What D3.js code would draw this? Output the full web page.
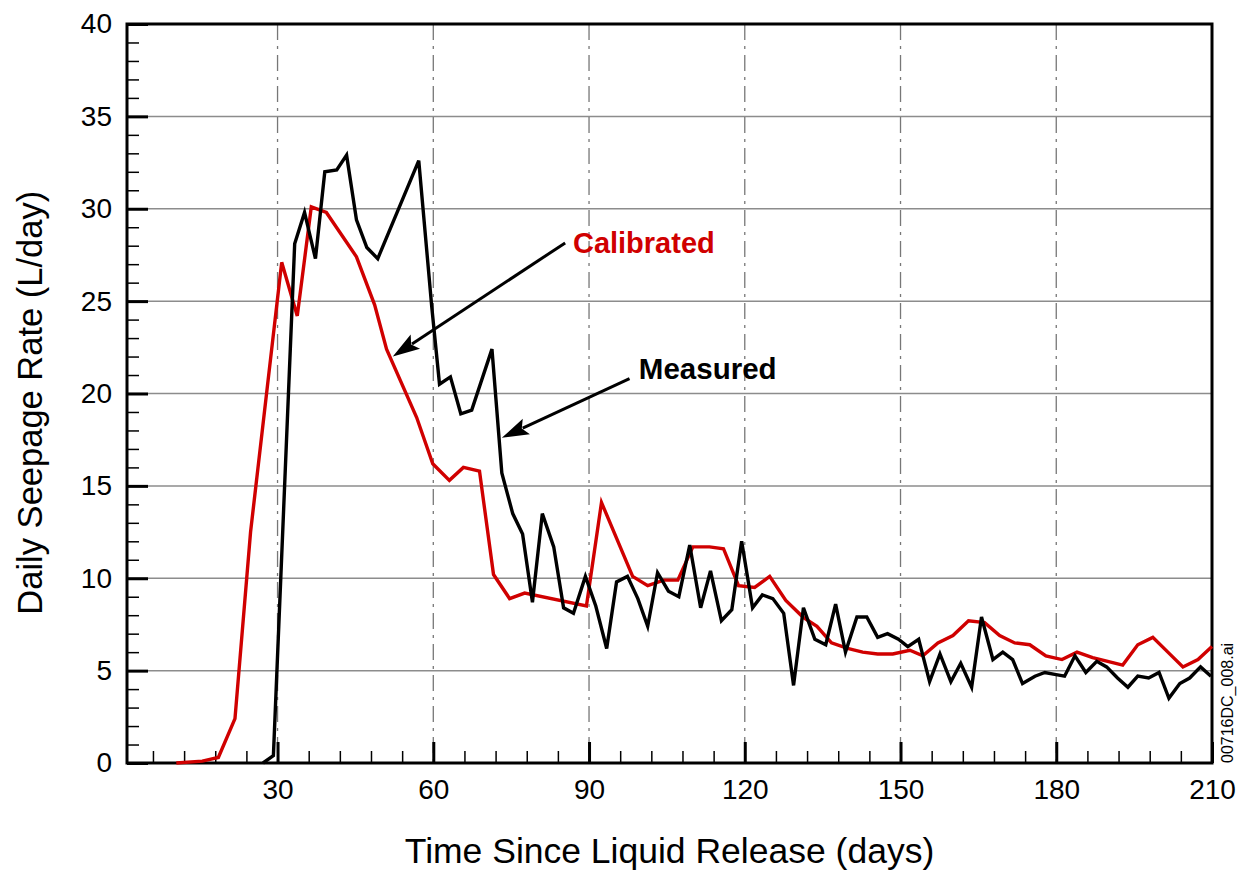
<!DOCTYPE html>
<meta charset="utf-8">

<style>
body { margin: 0; background: white; }
text { font-family: "Liberation Sans", Arial, sans-serif; }
.tick text { font-size: 28px; fill: black; }
.grid-h { stroke: #8c8c8c; stroke-width: 1.5px; }
.grid-v { stroke: #777; stroke-width: 1.3px; stroke-dasharray: 16,6,3,6; }
.series { fill: none; stroke-width: 3.4px; stroke-linejoin: miter; }
</style>

<script src="https://cdn.jsdelivr.net/npm/d3@7"></script>
<div id="chart"></div>

<script>

// data: [day, L/day]
var measured = [
  [27.2, 0], [29.2, 0.4], [33.3, 28.1], [35.2, 29.8], [37.3, 27.3], [39.1, 32.0],
  [41.4, 32.1], [43.3, 32.9], [45.2, 29.4], [47.2, 27.9], [49.3, 27.3], [57.2, 32.6],
  [59.7, 24.7], [61.2, 20.5], [63.3, 20.9], [65.3, 18.9], [67.4, 19.1], [71.3, 22.4],
  [73.2, 15.7], [75.3, 13.5], [77.2, 12.4], [79.1, 8.7], [81.0, 13.5], [83.2, 11.7],
  [85.1, 8.4], [87.0, 8.1], [89.3, 10.1], [91.3, 8.5], [93.4, 6.2], [95.3, 9.8],
  [97.4, 10.1], [99.4, 8.9], [101.3, 7.4], [103.2, 10.3], [105.3, 9.3], [107.3, 9.0],
  [109.4, 11.8], [111.5, 8.4], [113.4, 10.4], [115.5, 7.7], [117.5, 8.3], [119.4, 12.0],
  [121.5, 8.4], [123.4, 9.1], [125.4, 8.9], [127.5, 8.1], [129.4, 4.2], [131.3, 8.4],
  [133.5, 6.7], [135.6, 6.4], [137.5, 8.6], [139.4, 6.0], [141.6, 7.9], [143.5, 7.9],
  [145.6, 6.8], [147.5, 7.0], [149.6, 6.7], [151.4, 6.3], [153.5, 6.7], [155.6, 4.4],
  [157.6, 5.9], [159.7, 4.4], [161.6, 5.4], [163.7, 4.1], [165.6, 7.9], [167.8, 5.6],
  [169.7, 6.0], [171.6, 5.6], [173.5, 4.3], [175.9, 4.7], [177.8, 4.9], [179.7, 4.8],
  [181.6, 4.7], [183.6, 5.8], [185.7, 4.9], [187.8, 5.5], [189.7, 5.2], [191.8, 4.6],
  [193.8, 4.1], [195.7, 4.7], [197.8, 4.6], [199.8, 4.9], [201.7, 3.5], [203.8, 4.3],
  [205.7, 4.6], [207.8, 5.2], [209.8, 4.7]
];

var calibrated = [
  [10.5, 0], [15.5, 0.1], [18.6, 0.3], [21.8, 2.4], [24.8, 12.5], [30.8, 27.1],
  [33.8, 24.2], [36.5, 30.1], [39.4, 29.8], [45.2, 27.4], [48.7, 24.8], [51.0, 22.4],
  [56.8, 18.7], [59.9, 16.2], [63.1, 15.3], [65.8, 16.0], [68.9, 15.8], [71.6, 10.2],
  [74.7, 8.9], [77.6, 9.2], [89.5, 8.5], [92.4, 14.1], [98.4, 10.1], [101.3, 9.6],
  [104.4, 9.9], [107.1, 9.9], [110.0, 11.7], [113.2, 11.7], [115.9, 11.6], [118.8, 9.6],
  [121.9, 9.5], [124.8, 10.1], [127.9, 8.8], [131.2, 7.9], [133.9, 7.4], [136.7, 6.5],
  [139.8, 6.2], [142.7, 6.0], [145.6, 5.9], [148.5, 5.9], [151.8, 6.1], [154.3, 5.8],
  [157.2, 6.5], [160.1, 6.9], [163.1, 7.7], [166.2, 7.6], [169.1, 6.9], [172.0, 6.5],
  [174.9, 6.4], [178.0, 5.8], [181.1, 5.6], [184.0, 6.0], [187.0, 5.7], [189.9, 5.5],
  [192.8, 5.3], [195.7, 6.4], [198.6, 6.8], [201.5, 6.0], [204.4, 5.2], [207.3, 5.6],
  [210.0, 6.3]
];

var xMajor = [30, 60, 90, 120, 150, 180, 210];
var yMajor = [0, 5, 10, 15, 20, 25, 30, 35, 40];

// annotation arrows: tail [day, val] -> tip [day, val]
var calArrow = [[85.4, 28.15], [52.2, 22.0]];
var meaArrow = [[97.8, 20.8], [73.2, 17.6]];

var W = 1242, H = 874;
var margin = {top: 24, right: 30, bottom: 111, left: 127};
var width = W - margin.left - margin.right,
    height = H - margin.top - margin.bottom;

var svg = d3.select("#chart")
  .append("svg")
    .attr("width", W)
    .attr("height", H)
  .append("g")
    .attr("transform", "translate(" + margin.left + "," + margin.top + ")");

var x = d3.scaleLinear().domain([1, 210]).range([0, width]);
var y = d3.scaleLinear().domain([0, 40]).range([height, 0]);

// ---------------------------//
//       GRID                 //
// ---------------------------//
svg.append("g").selectAll("line")
  .data(yMajor.filter(function(d) { return d > 0 && d < 40; }))
  .enter().append("line")
    .attr("class", "grid-h")
    .attr("x1", 0).attr("x2", width)
    .attr("y1", function(d) { return y(d); })
    .attr("y2", function(d) { return y(d); });

svg.append("g").selectAll("line")
  .data(xMajor.filter(function(d) { return d < 210; }))
  .enter().append("line")
    .attr("class", "grid-v")
    .attr("y1", 0).attr("y2", height)
    .attr("x1", function(d) { return x(d); })
    .attr("x2", function(d) { return x(d); });

// ---------------------------//
//       AXES                 //
// ---------------------------//
var yMinor = d3.range(0, 41, 1).filter(function(d) { return d % 5 != 0; });
var xMinor = d3.range(6, 210, 6).filter(function(d) { return d % 30 != 0; });

svg.append("g")
  .call(d3.axisLeft(y).tickValues(yMinor).tickSize(-12).tickSizeOuter(0).tickFormat(""))
  .call(function(g) { g.select(".domain").remove(); })
  .selectAll("line").attr("stroke-width", 1.5);

var yAx = svg.append("g")
  .call(d3.axisLeft(y).tickValues(yMajor).tickSize(-21).tickSizeOuter(0).tickPadding(15));
yAx.select(".domain").remove();
yAx.selectAll("line").attr("stroke-width", 3);

svg.append("g")
  .attr("transform", "translate(0," + height + ")")
  .call(d3.axisBottom(x).tickValues(xMinor).tickSize(-12).tickSizeOuter(0).tickFormat(""))
  .call(function(g) { g.select(".domain").remove(); })
  .selectAll("line").attr("stroke-width", 1.5);

var xAx = svg.append("g")
  .attr("transform", "translate(0," + height + ")")
  .call(d3.axisBottom(x).tickValues(xMajor).tickSize(-21).tickSizeOuter(0).tickPadding(16));
xAx.select(".domain").remove();
xAx.selectAll("line").attr("stroke-width", 3);

// frame
svg.append("rect")
  .attr("width", width).attr("height", height)
  .attr("fill", "none").attr("stroke", "black").attr("stroke-width", 3);

// ---------------------------//
//       LINES                //
// ---------------------------//
var line = d3.line()
  .x(function(d) { return x(d[0]); })
  .y(function(d) { return y(d[1]); });

svg.append("path").datum(calibrated)
  .attr("class", "series").attr("stroke", "#d00000").attr("d", line);

svg.append("path").datum(measured)
  .attr("class", "series").attr("stroke", "black").attr("d", line);

// ---------------------------//
//       ANNOTATIONS          //
// ---------------------------//
function arrow(a) {
  var x0 = x(a[0][0]), y0 = y(a[0][1]), x1 = x(a[1][0]), y1 = y(a[1][1]);
  var ang = Math.atan2(y1 - y0, x1 - x0);
  var len = 27, hw = 8.5;
  var bx = x1 - len * Math.cos(ang), by = y1 - len * Math.sin(ang);
  svg.append("line")
    .attr("x1", x0).attr("y1", y0).attr("x2", bx + 4 * Math.cos(ang)).attr("y2", by + 4 * Math.sin(ang))
    .attr("stroke", "black").attr("stroke-width", 3);
  var pts = [
    [x1, y1],
    [bx - hw * Math.sin(ang), by + hw * Math.cos(ang)],
    [bx + 5 * Math.cos(ang), by + 5 * Math.sin(ang)],
    [bx + hw * Math.sin(ang), by - hw * Math.cos(ang)]
  ];
  svg.append("path")
    .attr("d", "M" + pts.map(function(p) { return p.join(","); }).join("L") + "Z")
    .attr("fill", "black");
}
arrow(calArrow);
arrow(meaArrow);

svg.append("text")
  .attr("x", x(86.9)).attr("y", y(27.6))
  .attr("fill", "#d00000")
  .style("font-size", "29px").style("font-weight", "bold")
  .text("Calibrated");

svg.append("text")
  .attr("x", x(99.6)).attr("y", y(20.8))
  .attr("fill", "black")
  .style("font-size", "29.5px").style("font-weight", "bold")
  .text("Measured");

// axis titles
svg.append("text")
  .attr("text-anchor", "middle")
  .attr("x", x(105.5))
  .attr("y", height + 100)
  .style("font-size", "35.5px")
  .text("Time Since Liquid Release (days)");

svg.append("text")
  .attr("text-anchor", "middle")
  .attr("transform", "translate(" + (-85) + "," + y(19.5) + ") rotate(-90)")
  .style("font-size", "34.5px")
  .text("Daily Seepage Rate (L/day)");

// file tag at right edge
svg.append("text")
  .attr("text-anchor", "start")
  .attr("transform", "translate(" + (width + 21) + "," + height + ") rotate(-90)")
  .style("font-size", "16px")
  .text("00716DC_008.ai");

</script>
